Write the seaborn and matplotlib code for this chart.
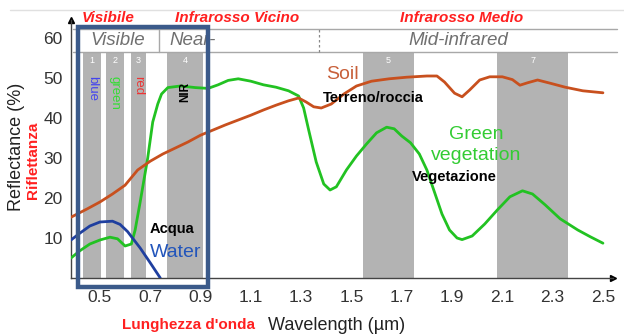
import numpy as np
import pandas as pd
import matplotlib
matplotlib.use("Agg")
import matplotlib.pyplot as plt
import seaborn as sns
from matplotlib.patches import Rectangle
from matplotlib.lines import Line2D

# ---------------- data ----------------
veg_wl = [0.385, 0.42, 0.46, 0.50, 0.54, 0.57, 0.60, 0.625, 0.64, 0.66, 0.69, 0.71,
          0.73, 0.745, 0.77, 0.82, 0.88, 0.93, 0.97, 1.01, 1.05, 1.10, 1.15, 1.20,
          1.25, 1.29, 1.31, 1.33, 1.36, 1.39, 1.415, 1.44, 1.48, 1.52, 1.56, 1.60,
          1.64, 1.67, 1.70, 1.735, 1.77, 1.80, 1.83, 1.86, 1.89, 1.92, 1.94, 1.98,
          2.03, 2.08, 2.13, 2.18, 2.22, 2.27, 2.33, 2.40, 2.45, 2.50]
veg_refl = [5.0, 6.8, 8.5, 9.5, 10.2, 9.8, 8.0, 8.5, 12.0, 19.0, 30.0, 39.0,
            43.5, 46.0, 47.6, 48.0, 47.6, 47.4, 48.3, 49.4, 49.8, 49.2, 48.3, 47.7,
            46.8, 45.5, 42.5, 37.0, 29.0, 23.5, 22.0, 22.8, 27.0, 30.5, 33.5, 36.3,
            37.7, 37.3, 35.5, 33.8, 31.0, 27.0, 21.5, 16.0, 12.0, 10.0, 9.6, 10.5,
            13.5, 17.0, 20.3, 21.8, 21.0, 18.3, 14.8, 12.0, 10.3, 8.7]

soil_wl = [0.385, 0.45, 0.50, 0.55, 0.60, 0.65, 0.70, 0.75, 0.80, 0.85, 0.90, 0.95,
           1.00, 1.05, 1.10, 1.15, 1.20, 1.25, 1.29, 1.32, 1.35, 1.38, 1.42, 1.47,
           1.52, 1.58, 1.65, 1.72, 1.80, 1.84, 1.87, 1.91, 1.94, 1.97, 2.01, 2.05,
           2.10, 2.14, 2.17, 2.20, 2.24, 2.29, 2.35, 2.42, 2.50]
soil_refl = [15.2, 17.3, 19.0, 21.0, 23.2, 27.0, 29.2, 31.0, 32.5, 34.0, 35.7, 37.0,
             38.3, 39.5, 40.7, 42.0, 43.2, 44.3, 45.0, 44.0, 42.8, 42.5, 43.5, 46.0,
             48.0, 49.2, 49.8, 50.2, 50.5, 50.5, 49.0, 46.2, 45.3, 47.0, 49.5, 50.3,
             50.3, 49.6, 48.2, 48.8, 49.5, 48.7, 47.7, 46.8, 46.3]

water_wl = [0.385, 0.42, 0.46, 0.50, 0.55, 0.58, 0.61, 0.66, 0.70, 0.74]
water_refl = [9.5, 11.2, 13.0, 14.0, 14.2, 13.4, 11.6, 7.5, 3.8, 0.0]

band_names = ["1", "2", "3", "4", "5", "7"]
band_start = [0.433, 0.524, 0.623, 0.766, 1.546, 2.080]
band_end = [0.504, 0.595, 0.683, 0.910, 1.749, 2.360]

xticks = [0.5, 0.7, 0.9, 1.1, 1.3, 1.5, 1.7, 1.9, 2.1, 2.3, 2.5]
yticks = [10, 20, 30, 40, 50, 60]

# ---------------- style ----------------
sns.set_style("white")
plt.rcParams['font.family'] = ['Liberation Sans', 'DejaVu Sans']

SOIL = "#c8501e"
VEG = "#22c222"
WATER = "#1f3f9f"
RED = "#ff2020"
BAND = "#b3b3b3"

fig = plt.figure(figsize=(6.24, 3.35), dpi=100)
W, H = 624, 335
ax = fig.add_axes([71 / W, 57 / H, 542 / W, 258 / H])
ax.set_xlim(0.385, 2.54)
ax.set_ylim(0, 64.5)

# bands
for name, s, e in zip(band_names, band_start, band_end):
    ax.add_patch(Rectangle((s, 0), e - s, 56.2, color=BAND, lw=0, zorder=0))
    ax.text((s + e) / 2, 54.3, name, color="white", fontsize=6.5,
            ha="center", va="center", zorder=1)

# band colour words
ax.text(0.468, 50.5, "blue", color="#4444ee", fontsize=9.5, rotation=-90,
        ha="center", va="top", zorder=1)
ax.text(0.559, 50.5, "green", color="#33dd33", fontsize=9.5, rotation=-90,
        ha="center", va="top", zorder=1)
ax.text(0.653, 50.5, "red", color="#ee3333", fontsize=9.5, rotation=-90,
        ha="center", va="top", zorder=1)
ax.text(0.838, 46.5, "NIR", color="black", fontsize=8.5, fontweight="bold",
        rotation=90, ha="center", va="center", zorder=4)

# curves
df = pd.concat([
    pd.DataFrame({"wl": veg_wl, "refl": veg_refl, "series": "Green vegetation"}),
    pd.DataFrame({"wl": soil_wl, "refl": soil_refl, "series": "Soil"}),
    pd.DataFrame({"wl": water_wl, "refl": water_refl, "series": "Water"}),
])
sns.lineplot(data=df, x="wl", y="refl", hue="series", estimator=None,
             palette={"Green vegetation": VEG, "Soil": SOIL, "Water": WATER},
             lw=2.0, legend=False, ax=ax, zorder=3)

# header strip
hc = "#a8a8a8"
ax.plot([0.392, 2.556], [62.25, 62.25], color=hc, lw=1, clip_on=False)
ax.plot([0.392, 2.556], [56.5, 56.5], color=hc, lw=1, clip_on=False)
ax.plot([0.735, 0.735], [56.5, 62.25], color=hc, lw=1, clip_on=False)
ax.plot([1.371, 1.371], [56.5, 62.25], color="#888888", lw=0.9,
        ls=(0, (2, 2)), clip_on=False)
ax.text(0.572, 59.4, "Visible", color="#707070", fontsize=13.5, style="italic",
        ha="center", va="center")
ax.text(0.778, 59.4, "Near-", color="#707070", fontsize=13.5, style="italic",
        ha="left", va="center")
ax.text(1.923, 59.4, "Mid-infrared", color="#707070", fontsize=13.5,
        style="italic", ha="center", va="center")

# curve labels
ax.text(1.466, 50.8, "Soil", color="#c8603a", fontsize=14, ha="center", va="center")
ax.text(1.586, 45.0, "Terreno/roccia", color="black", fontsize=10.5,
        fontweight="bold", ha="center", va="center")
ax.text(1.995, 35.8, "Green", color="#33cc33", fontsize=14, ha="center", va="center")
ax.text(1.995, 30.6, "vegetation", color="#33cc33", fontsize=14, ha="center", va="center")
ax.text(1.91, 25.3, "Vegetazione", color="black", fontsize=10.5,
        fontweight="bold", ha="center", va="center")
ax.text(0.786, 12.3, "Acqua", color="black", fontsize=10.5, fontweight="bold",
        ha="center", va="center")
ax.text(0.80, 6.3, "Water", color="#2255bb", fontsize=14, ha="center", va="center")

# blue frame
ax.add_patch(Rectangle((0.4125, -2.25), 0.929 - 0.4125, 62.75 + 2.25, fill=False,
                       ec="#3b5a8a", lw=3.2, clip_on=False, zorder=5))

# axes
for s in ["top", "right"]:
    ax.spines[s].set_visible(False)
for s in ["left", "bottom"]:
    ax.spines[s].set_color("#444444")
    ax.spines[s].set_linewidth(1.0)
ax.set_xticks(xticks)
ax.set_xticklabels([f"{t:.1f}" for t in xticks])
ax.set_yticks(yticks)
ax.tick_params(axis="both", colors="black", labelcolor="#333333", labelsize=12.5,
               length=4.5, width=1.0, direction="out")
ax.tick_params(axis="x", pad=4)
ax.tick_params(axis="y", pad=1.5)
ax.set_xlabel("")
ax.set_ylabel("")
ax.plot([1], [0], ">", color="black", ms=4, transform=ax.transAxes, clip_on=False)
ax.plot([0], [1], "^", color="black", ms=4, transform=ax.transAxes, clip_on=False)

# figure-level texts
fig.add_artist(Line2D([10 / W, 1], [1 - 10 / H, 1 - 10 / H], color="#e0e0e0", lw=1))
for txt, px in [("Visibile", 108), ("Infrarosso Vicino", 237), ("Infrarosso Medio", 462)]:
    fig.text(px / W, 1 - 18 / H, txt, color=RED, fontsize=11, fontweight="bold",
             style="italic", ha="center", va="center")
fig.text(17 / W, 1 - 147 / H, "Reflectance (%)", rotation=90, fontsize=13,
         color="#222222", ha="center", va="center")
fig.text(33 / W, 1 - 160 / H, "Riflettanza", rotation=90, fontsize=11,
         color=RED, fontweight="bold", ha="center", va="center")
fig.text(189 / W, 1 - 325 / H, "Lunghezza d'onda", fontsize=11, color=RED,
         fontweight="bold", ha="center", va="center")
fig.text(337 / W, 1 - 325 / H, "Wavelength (\u00b5m)", fontsize=13,
         color="#222222", ha="center", va="center")

fig.savefig("out.png", dpi=100)
